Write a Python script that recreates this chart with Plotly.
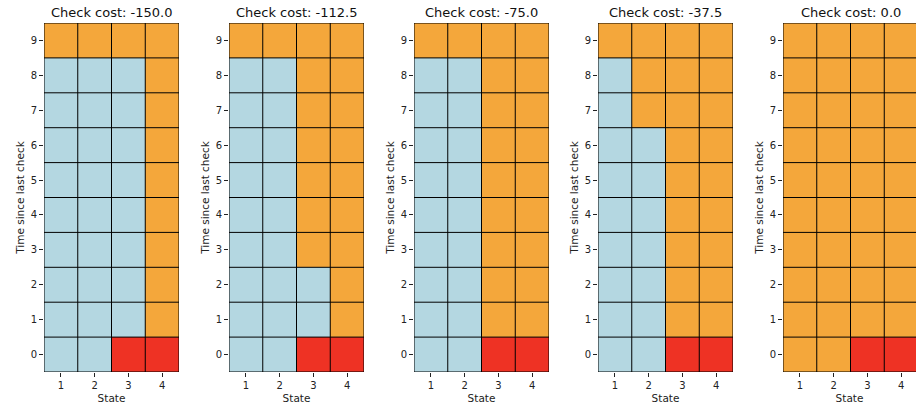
import plotly.graph_objects as go

states = [1, 2, 3, 4]
times = list(range(10))
check_costs = [-150.0, -112.5, -75.0, -37.5, 0.0]

# 0 = continue (blue), 1 = check (orange), 2 = terminal (red); rows = time 0..9
policy_m150 = [[0, 0, 2, 2]] + [[0, 0, 0, 1]] * 8 + [[1, 1, 1, 1]]
policy_m112 = [[0, 0, 2, 2]] + [[0, 0, 0, 1]] * 2 + [[0, 0, 1, 1]] * 6 + [[1, 1, 1, 1]]
policy_m75 = [[0, 0, 2, 2]] + [[0, 0, 1, 1]] * 8 + [[1, 1, 1, 1]]
policy_m37 = [[0, 0, 2, 2]] + [[0, 0, 1, 1]] * 6 + [[0, 1, 1, 1]] * 2 + [[1, 1, 1, 1]]
policy_0 = [[1, 1, 2, 2]] + [[1, 1, 1, 1]] * 9
policies = [policy_m150, policy_m112, policy_m75, policy_m37, policy_0]

BLUE = "#b4d7e1"
ORANGE = "#f4a73b"
RED = "#ee3224"
cscale = [[0, BLUE], [0.333, BLUE], [0.334, ORANGE], [0.666, ORANGE], [0.667, RED], [1, RED]]

W, H = 916, 408
xpix = [(44, 179), (229, 364), (414, 549), (598, 733), (783, 918)]
ytop, ybot = 23, 372

# cell edge lines derived from the categories
xe = [s - 0.5 for s in states] + [states[-1] + 0.5]
ye = [t - 0.5 for t in times] + [times[-1] + 0.5]
gx, gy = [], []
for x in xe:
    gx += [x, x, None]
    gy += [ye[0], ye[-1], None]
for y in ye:
    gx += [xe[0], xe[-1], None]
    gy += [y, y, None]

fig = go.Figure()
font = dict(family="DejaVu Sans", color="#222")
layout = dict(width=W, height=H, margin=dict(l=0, r=0, t=0, b=0),
              plot_bgcolor="white", paper_bgcolor="white", font=font,
              showlegend=False, annotations=[])

for i, (pol, cost) in enumerate(zip(policies, check_costs)):
    n = "" if i == 0 else str(i + 1)
    fig.add_trace(go.Heatmap(z=pol, x=states, y=times, colorscale=cscale, zmin=0, zmax=2,
                             showscale=False, xaxis="x" + n, yaxis="y" + n, hoverinfo="skip"))
    fig.add_trace(go.Scatter(x=gx, y=gy, mode="lines", line=dict(color="black", width=1),
                             xaxis="x" + n, yaxis="y" + n, hoverinfo="skip", cliponaxis=False))
    x0, x1 = xpix[i]
    xr = [0.5, 4.5]
    d1 = x1 / W
    if x1 > W:
        xr = [0.5, 0.5 + 4 * (W - x0) / (x1 - x0)]
        d1 = 1.0
    layout["xaxis" + n] = dict(domain=[x0 / W, d1], anchor="y" + n, range=xr,
                               tickvals=states, ticks="outside", ticklen=4, tickcolor="#222",
                               showgrid=False, zeroline=False, showline=False,
                               tickfont=dict(size=10),
                               title=dict(text="State", font=dict(size=10.5), standoff=4))
    layout["yaxis" + n] = dict(domain=[(H - ybot) / H, (H - ytop) / H], anchor="x" + n,
                               range=[-0.5, 9.5], tickvals=times, ticks="outside", ticklen=4,
                               tickcolor="#222", showgrid=False, zeroline=False, showline=False,
                               tickfont=dict(size=10),
                               title=dict(text="Time since last check", font=dict(size=10.5),
                                          standoff=3))
    layout["annotations"].append(dict(text=f"Check cost: {cost:.1f}", x=(x0 + x1) / 2 / W,
                                      y=(H - 12) / H, xref="paper", yref="paper",
                                      showarrow=False, font=dict(size=13, color="#111"),
                                      xanchor="center", yanchor="middle"))

fig.update_layout(**layout)
fig.write_html("out.html")
